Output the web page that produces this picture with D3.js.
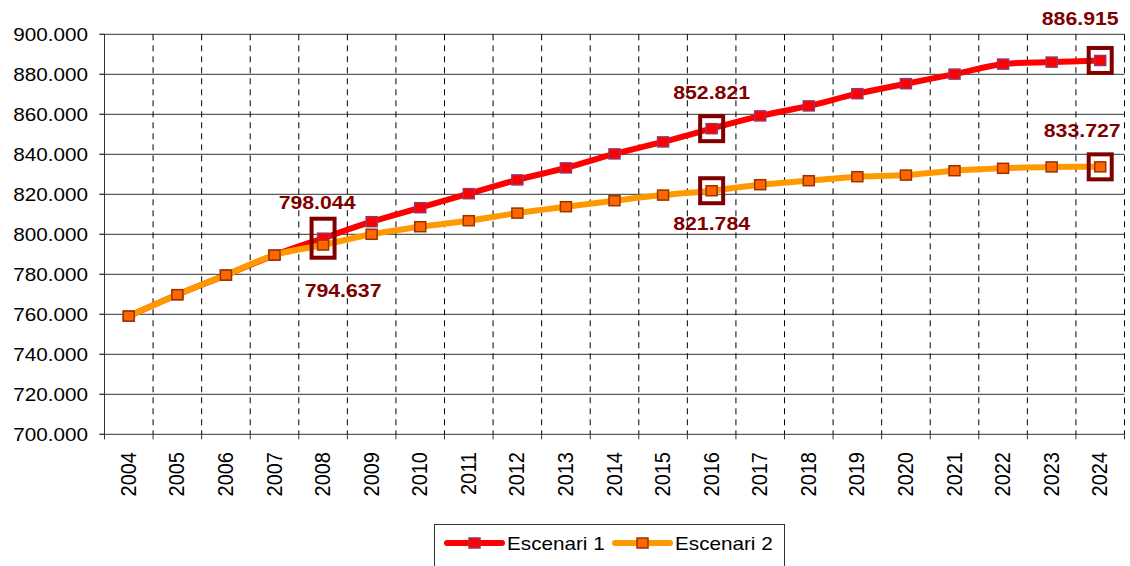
<!DOCTYPE html>
<html>
<head>
<meta charset="utf-8">
<script src="https://cdn.jsdelivr.net/npm/d3@7"></script>
<style>
  body { margin: 0; background: #fff; }
  text { font-family: Arial, "Liberation Sans", sans-serif; }
</style>
</head>
<body>
<div id="chart"></div>
<script>
// years on the x axis
var years = ["2004", "2005", "2006", "2007", "2008", "2009", "2010", "2011", "2012", "2013",
  "2014", "2015", "2016", "2017", "2018", "2019", "2020", "2021", "2022", "2023", "2024"];

// population, scenario 1
var escenari1 = [759100, 769800, 779600, 789600, 798044, 806300, 813300, 820300, 827200, 833200,
  840200, 846200, 852821, 859200, 864200, 870300, 875300, 880100, 885100, 886100, 886915];

// population, scenario 2
var escenari2 = [759100, 769800, 779600, 789600, 794637, 800000, 803800, 806800, 810600, 813800,
  816800, 819600, 821784, 824800, 826800, 828800, 829600, 831800, 833000, 833700, 833727];

var seriesNames = ["Escenari 1", "Escenari 2"];
var yTicks = [700000, 720000, 740000, 760000, 780000, 800000, 820000, 840000, 860000, 880000, 900000];

// highlighted points (year, series index)
var callouts = [
  { year: "2008", s: 0 }, { year: "2008", s: 1 },
  { year: "2016", s: 0 }, { year: "2016", s: 1 },
  { year: "2024", s: 0 }, { year: "2024", s: 1 }
];

var width = 1130, height = 566;
var SX = 1.15; // text in the original is a bit stretched horizontally

var margin = { left: 104.5, right: 1124.5, top: 34.3, bottom: 434.3 };

var fmt = d3.formatLocale({ decimal: ",", thousands: ".", grouping: [3], currency: ["", ""] }).format(",d");

var svg = d3.select("#chart").append("svg")
  .attr("width", width)
  .attr("height", height);

var x = d3.scaleBand().domain(years).range([margin.left, margin.right]).padding(0);
var y = d3.scaleLinear().domain([700000, 900000]).range([margin.bottom, margin.top]);
var cx = function (yr) { return x(yr) + x.bandwidth() / 2; };

// horizontal gridlines
svg.append("g").selectAll("line")
  .data(yTicks.slice(1))
  .enter().append("line")
  .attr("x1", margin.left - 5).attr("x2", margin.right)
  .attr("y1", function (d) { return y(d); })
  .attr("y2", function (d) { return y(d); })
  .attr("stroke", "#333").attr("stroke-width", 1);

// vertical dashed gridlines at category boundaries
svg.append("g").selectAll("line")
  .data(years)
  .enter().append("line")
  .attr("x1", function (d) { return x(d) + x.bandwidth(); })
  .attr("x2", function (d) { return x(d) + x.bandwidth(); })
  .attr("y1", margin.top).attr("y2", margin.bottom)
  .attr("stroke", "#000").attr("stroke-width", 1)
  .attr("stroke-dasharray", "6,5");

// y axis
svg.append("line")
  .attr("x1", margin.left).attr("x2", margin.left).attr("y1", margin.top).attr("y2", margin.bottom)
  .attr("stroke", "#333");
svg.append("g").selectAll("line")
  .data(yTicks)
  .enter().append("line")
  .attr("x1", margin.left - 5).attr("x2", margin.left)
  .attr("y1", function (d) { return y(d); })
  .attr("y2", function (d) { return y(d); })
  .attr("stroke", "#333");
svg.append("g").selectAll("text")
  .data(yTicks)
  .enter().append("text")
  .attr("transform", function (d) { return "translate(88," + (y(d) + 6.5) + ") scale(" + SX + ",1)"; })
  .attr("text-anchor", "end")
  .style("font-size", "18px")
  .text(function (d) { return fmt(d); });

// x axis
svg.append("line")
  .attr("x1", margin.left - 5).attr("x2", margin.right).attr("y1", margin.bottom).attr("y2", margin.bottom)
  .attr("stroke", "#333");
svg.append("g").selectAll("line")
  .data([margin.left].concat(years.map(function (d) { return x(d) + x.bandwidth(); })))
  .enter().append("line")
  .attr("x1", function (d) { return d; }).attr("x2", function (d) { return d; })
  .attr("y1", margin.bottom).attr("y2", margin.bottom + 5)
  .attr("stroke", "#333");
svg.append("g").selectAll("text")
  .data(years)
  .enter().append("text")
  .attr("transform", function (d) { return "translate(" + (cx(d) + 7) + ",452) scale(1.1,1) rotate(-90)"; })
  .attr("text-anchor", "end")
  .style("font-size", "20px")
  .text(function (d) { return d; });

// lines
var series = [
  { name: seriesNames[0], values: escenari1, line: "#ff0000", fill: "#ff0000", edge: "#993366" },
  { name: seriesNames[1], values: escenari2, line: "#ff9900", fill: "#ff6600", edge: "#993300" }
];

var line = d3.line()
  .x(function (d, i) { return cx(years[i]); })
  .y(function (d) { return y(d); })
  .curve(d3.curveCatmullRom.alpha(0.5));

series.forEach(function (s) {
  var g = svg.append("g");
  g.append("path")
    .attr("d", line(s.values))
    .attr("fill", "none")
    .attr("stroke", s.line)
    .attr("stroke-width", 6)
    .attr("stroke-linejoin", "round");
  g.selectAll("rect")
    .data(s.values)
    .enter().append("rect")
    .attr("x", function (d, i) { return cx(years[i]) - 5.5; })
    .attr("y", function (d) { return y(d) - 5; })
    .attr("width", 11).attr("height", 10)
    .attr("fill", s.fill)
    .attr("stroke", s.edge)
    .attr("stroke-width", 1.5);
});

// callout boxes and labels
var boxSize = { "2008-0": [23, 39], "2008-1": null };
var labelOffset = {
  "2008-0": [-6, -29], "2008-1": [20, 52],
  "2016-0": [0, -30], "2016-1": [0, 39],
  "2024-0": [-20, -35.5], "2024-1": [-18, -30]
};

callouts.forEach(function (c) {
  var key = c.year + "-" + c.s;
  var v = series[c.s].values[years.indexOf(c.year)];
  var px = cx(c.year), py = y(v);
  var bs = boxSize.hasOwnProperty(key) ? boxSize[key] : [23, 25];
  if (bs) {
    svg.append("rect")
      .attr("x", px - bs[0] / 2).attr("y", py - bs[1] / 2)
      .attr("width", bs[0]).attr("height", bs[1])
      .attr("fill", "none")
      .attr("stroke", "#800000")
      .attr("stroke-width", 4);
  }
  var off = labelOffset[key];
  svg.append("text")
    .attr("transform", "translate(" + (px + off[0]) + "," + (py + off[1]) + ") scale(" + SX + ",1)")
    .attr("text-anchor", "middle")
    .style("font-size", "18.5px")
    .style("font-weight", "bold")
    .attr("fill", "#800000")
    .text(fmt(v));
});

// legend
var legend = svg.append("g");
legend.append("rect")
  .attr("x", 434.5).attr("y", 524.5).attr("width", 350).attr("height", 60)
  .attr("fill", "#fff").attr("stroke", "#333");
var legX = [447, 615];
series.forEach(function (s, i) {
  var lx = legX[i], ly = 543;
  legend.append("line")
    .attr("x1", lx).attr("x2", lx + 55).attr("y1", ly).attr("y2", ly)
    .attr("stroke", s.line).attr("stroke-width", 6).attr("stroke-linecap", "round");
  legend.append("rect")
    .attr("x", lx + 22).attr("y", ly - 5).attr("width", 11).attr("height", 10)
    .attr("fill", s.fill).attr("stroke", s.edge).attr("stroke-width", 1.5);
  legend.append("text")
    .attr("transform", "translate(" + (lx + 60) + "," + (ly + 7) + ") scale(" + SX + ",1)")
    .style("font-size", "18px")
    .text(s.name);
});
</script>
</body>
</html>
